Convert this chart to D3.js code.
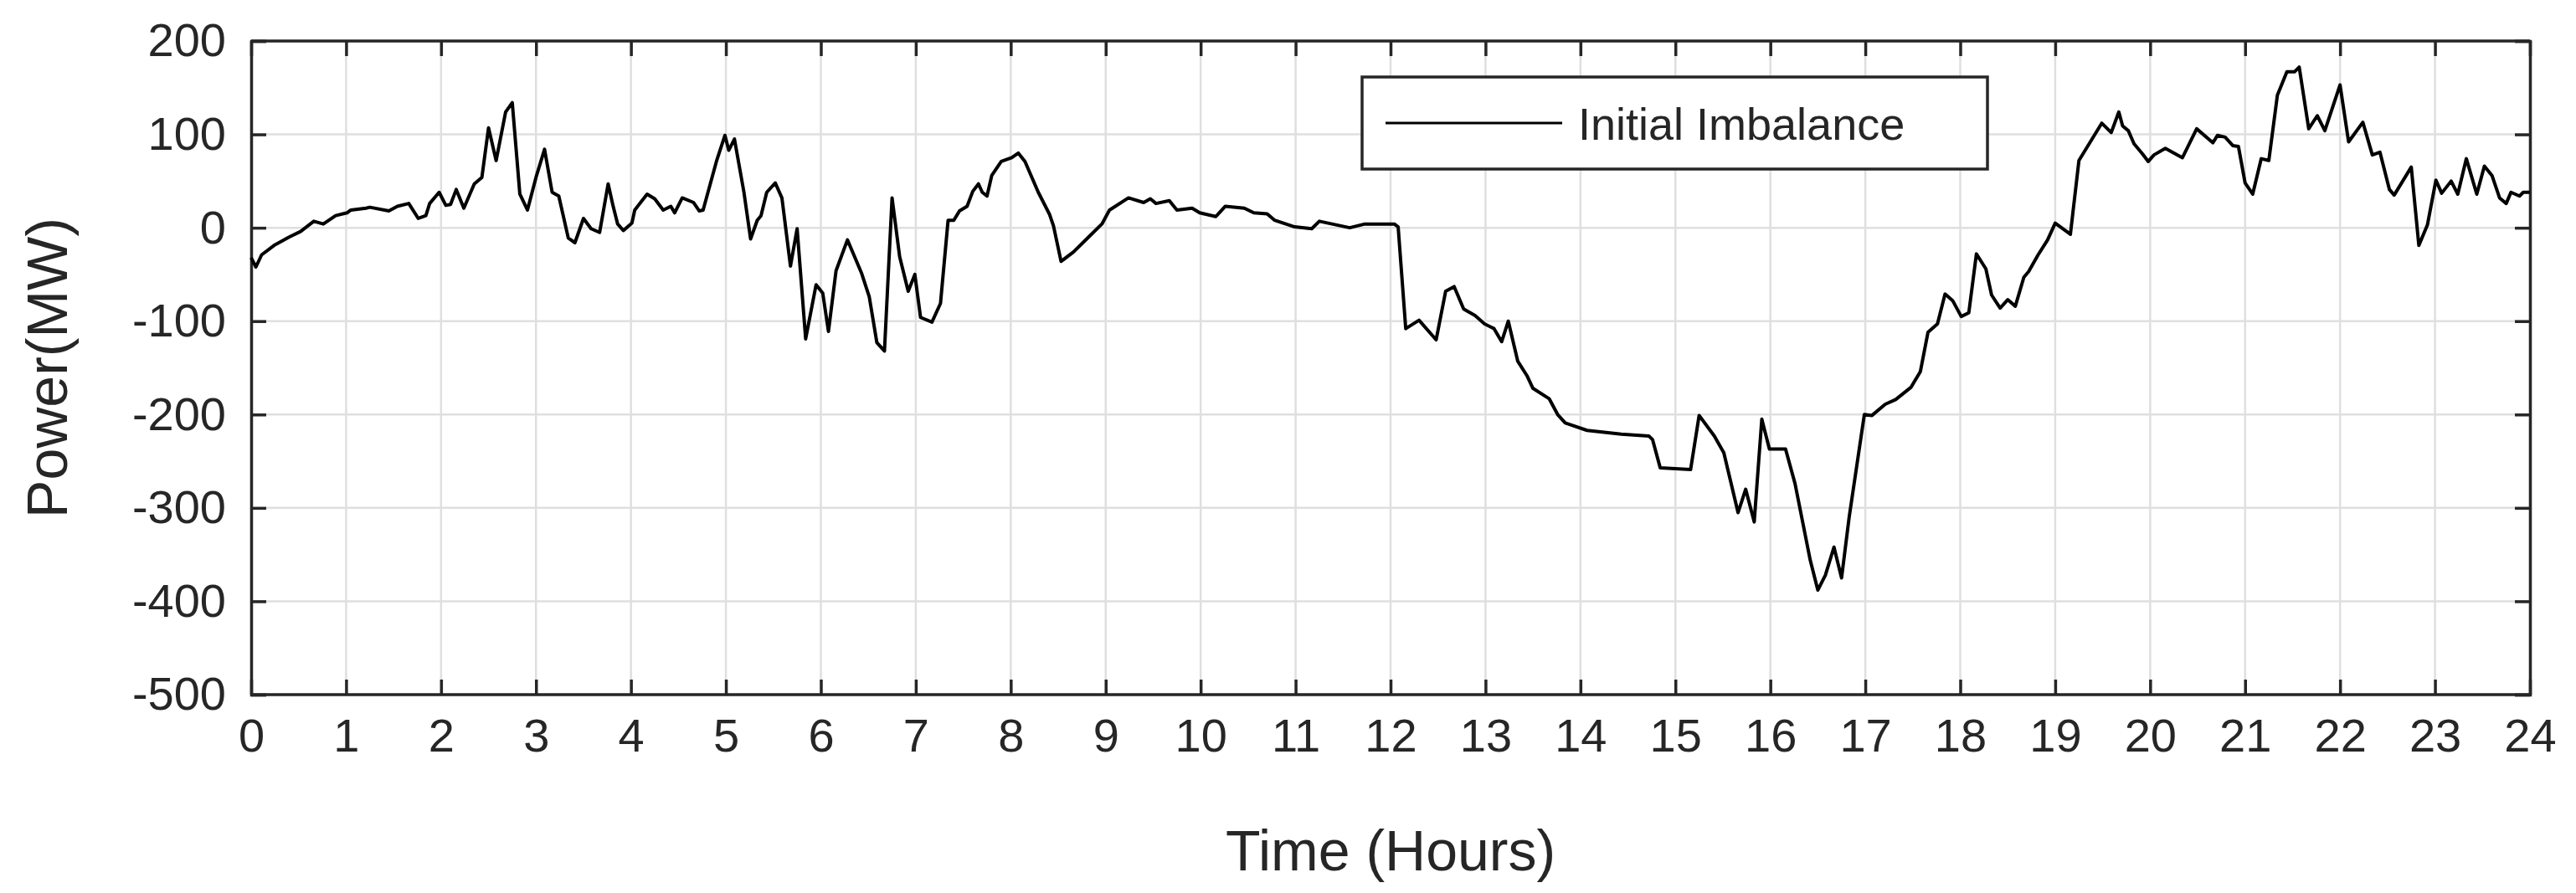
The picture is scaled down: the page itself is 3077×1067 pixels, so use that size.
<!DOCTYPE html>
<html>
<head>
<meta charset="utf-8">
<script src="https://d3js.org/d3.v7.min.js"></script>
<style>
  *{margin:0;padding:0;}
  body{background:#fff;}
  text{font-family:"Liberation Sans",Arial,sans-serif;fill:#262626;}
</style>
</head>
<body>
<div id="chart"></div>
<script>
// time in hours, imbalance in MW
var hours=[0,0.05,0.11,0.24,0.40,0.52,0.66,0.76,0.89,1.01,1.05,1.21,1.25,1.45,1.54,1.66,1.76,1.84,1.88,1.98,2.05,2.10,2.16,2.24,2.35,2.43,2.50,2.58,2.68,2.75,2.83,2.91,3.00,3.09,3.17,3.24,3.34,3.41,3.50,3.58,3.67,3.76,3.81,3.86,3.92,4.01,4.04,4.17,4.25,4.34,4.42,4.46,4.54,4.66,4.72,4.76,4.90,4.99,5.03,5.09,5.19,5.26,5.33,5.37,5.43,5.52,5.59,5.68,5.75,5.84,5.95,
 6.02,6.08,6.16,6.28,6.43,6.51,6.59,6.67,6.75,6.83,6.92,6.99,7.05,7.17,7.26,7.34,7.40,7.46,7.54,7.60,7.66,7.70,7.75,7.80,7.90,8.01,8.08,8.15,8.29,8.41,8.45,8.53,8.66,8.82,8.96,9.04,9.24,9.40,9.47,9.53,9.67,9.75,9.91,9.99,10.16,10.26,10.46,10.56,10.70,10.78,10.99,11.17,11.25,11.57,11.73,12.04,12.08,
 12.16,12.30,12.48,12.58,12.67,12.77,12.89,12.99,13.09,13.17,13.24,13.34,13.44,13.50,13.67,13.76,13.84,14.07,14.43,14.72,14.76,14.84,15.16,15.25,15.41,15.51,15.66,15.74,15.83,15.91,15.99,16.16,16.26,16.42,16.50,16.58,16.67,16.75,16.83,16.99,17.07,17.21,17.32,17.48,17.58,17.66,17.76,17.84,17.92,18.01,18.09,18.17,18.27,18.33,
 18.42,18.50,18.58,18.67,18.72,18.82,18.92,19.00,19.16,19.25,19.49,19.59,19.67,19.71,19.77,19.83,19.92,19.98,20.04,20.16,20.34,20.49,20.66,20.71,20.79,20.87,20.93,21.00,21.08,21.17,21.25,21.34,21.44,21.52,21.57,21.67,21.76,21.84,22.00,22.09,22.24,22.34,22.42,22.52,22.57,22.75,22.83,22.92,23.01,23.07,23.17,23.24,23.33,23.44,23.52,23.60,23.68,23.75,23.80,23.89,23.93,24.00];
var imbalance=[-32,-42,-29,-19,-10,-4,7,4,13,16,19,21,22,18,23,26,10,13,26,38,24,25,41,21,47,54,107,72,124,134,36,19,54,84,38,34,-11,-16,10,-1,-5,47,24,4,-3,5,19,36,31,19,23,16,32,27,18,19,71,99,83,95,38,-12,8,13,38,48,32,-41,-1,-119,-61,
 -70,-111,-46,-13,-49,-74,-123,-132,32,-31,-68,-50,-96,-101,-81,8,8,18,23,39,47,38,34,56,71,75,80,71,38,14,2,-36,-26,-10,4,19,32,27,31,26,29,19,21,16,12,23,21,16,15,8,1,-1,7,0,4,4,1,
 -108,-99,-120,-68,-63,-87,-94,-103,-108,-122,-100,-143,-159,-172,-183,-200,-209,-217,-221,-223,-227,-257,-259,-201,-223,-241,-305,-280,-315,-205,-237,-237,-274,-356,-388,-372,-342,-375,-310,-200,-201,-189,-184,-171,-154,-112,-103,-71,-78,-95,-91,-28,-44,-72,
 -86,-77,-84,-53,-47,-29,-13,5,-7,72,112,102,124,109,104,90,79,71,78,85,75,106,91,99,97,88,87,48,36,74,72,142,167,167,172,106,120,104,153,92,113,78,81,41,35,65,-19,3,51,37,50,36,74,36,66,56,32,26,38,34,38,38];
var xTicks=d3.range(0,25,1);
var yTicks=[200,100,0,-100,-200,-300,-400,-500];
var seriesName="Initial Imbalance";

var W=3077,H=1067;
var m={left:300,right:55,top:49,bottom:237};
var svg=d3.select('#chart').append('svg').attr('width',W).attr('height',H);

var x=d3.scaleLinear().domain([0,24]).range([m.left,W-m.right]);
var y=d3.scaleLinear().domain([-500,200]).range([H-m.bottom,m.top]);

// grid
svg.append('g').selectAll('line').data(xTicks).enter().append('line')
  .attr('x1',d=>x(d)).attr('x2',d=>x(d)).attr('y1',y(200)).attr('y2',y(-500))
  .attr('stroke','#dfdfdf').attr('stroke-width',2.5);
svg.append('g').selectAll('line').data(yTicks).enter().append('line')
  .attr('y1',d=>y(d)).attr('y2',d=>y(d)).attr('x1',x(0)).attr('x2',x(24))
  .attr('stroke','#dfdfdf').attr('stroke-width',2.5);

// axes (ticks inward)
var tk=18;
var fmt=d=>String(d);
var xa=svg.append('g').attr('transform','translate(0,'+y(-500)+')')
  .call(d3.axisBottom(x).tickValues(xTicks).tickSize(-tk).tickPadding(tk+10).tickFormat(fmt));
var xt=svg.append('g').attr('transform','translate(0,'+y(200)+')')
  .call(d3.axisTop(x).tickValues(xTicks).tickSize(-tk).tickFormat(''));
var ya=svg.append('g').attr('transform','translate('+x(0)+',0)')
  .call(d3.axisLeft(y).tickValues(yTicks).tickSize(-tk).tickPadding(tk+12).tickFormat(fmt));
var yr=svg.append('g').attr('transform','translate('+x(24)+',0)')
  .call(d3.axisRight(y).tickValues(yTicks).tickSize(-tk).tickFormat(''));
[xa,xt,ya,yr].forEach(function(g){
  g.selectAll('path,line').attr('stroke','#262626').attr('stroke-width',3.5);
  g.selectAll('text').style('font-size','56px').attr('fill','#262626');
});
xa.selectAll('path').attr('d','M'+x(0)+',0H'+x(24));
xt.selectAll('path').attr('d','M'+x(0)+',0H'+x(24));

// line
var line=d3.line().x((d,i)=>x(hours[i])).y(d=>y(d));
svg.append('path').datum(imbalance).attr('d',line)
  .attr('fill','none').attr('stroke','#000').attr('stroke-width',4).attr('stroke-linejoin','round');

// labels
svg.append('text').attr('x',(x(0)+x(24))/2).attr('y',1040).attr('text-anchor','middle')
  .style('font-size','68px').text('Time (Hours)');
svg.append('text').attr('transform','translate(80,'+(y(-150))+') rotate(-90)').attr('text-anchor','middle')
  .style('font-size','68px').text('Power(MW)');

// legend
var lg=svg.append('g');
lg.append('rect').attr('x',1627).attr('y',92).attr('width',747).attr('height',110)
  .attr('fill','#fff').attr('stroke','#262626').attr('stroke-width',3.5);
lg.append('line').attr('x1',1655).attr('x2',1866).attr('y1',147).attr('y2',147)
  .attr('stroke','#000').attr('stroke-width',3.2);
lg.append('text').attr('x',1885).attr('y',167).style('font-size','54px').attr('fill','#000').text(seriesName);
</script>
</body>
</html>
